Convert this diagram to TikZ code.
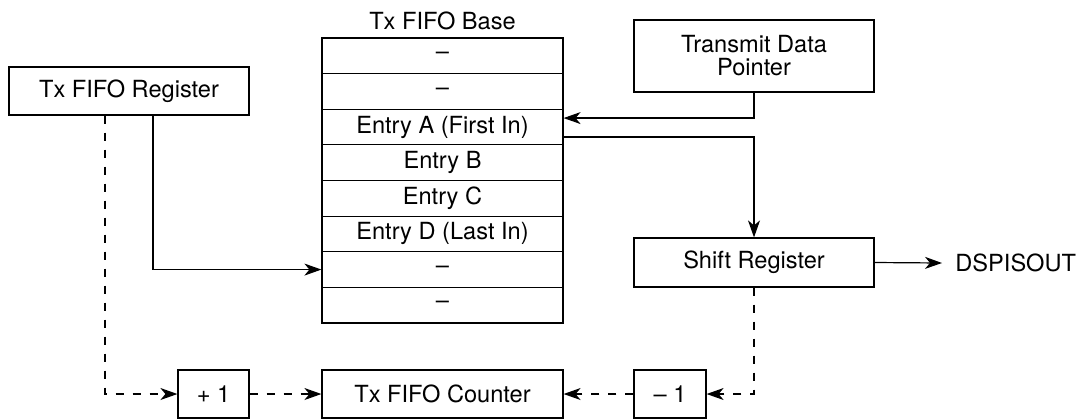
\documentclass[tikz,border=0pt]{standalone}
\usepackage{fontspec}
\setmainfont{TeX Gyre Heros}
\usetikzlibrary{arrows.meta}
\begin{document}
\begin{tikzpicture}[x=0.5pt,y=-0.5pt,
  font=\fontsize{11.8}{11.5}\selectfont,
  box/.style={draw,line width=0.6pt,rectangle,inner sep=0pt,align=center},
  row/.style={box,minimum width=120.5pt,minimum height=17.8125pt},
  arr/.style={line width=0.6pt,-{Stealth[length=8.5pt,width=6pt,inset=2.5pt]}},
  dsh/.style={arr,dash pattern=on 4pt off 4.5pt}]
\useasboundingbox (0,0) rectangle (1079,419);
% FIFO Register
\node[box,minimum width=120pt,minimum height=24pt] (reg) at (129,91) {Tx FIFO Register};
% FIFO stack
\node (base) at (442.5,21) {Tx FIFO Base};
\node[row] (r1) at (442.5,55.81) {--};
\node[row] (r2) at (442.5,91.44) {--};
\node[row] (r3) at (442.5,127.06) {Entry A (First In)};
\node[row] (r4) at (442.5,162.69) {Entry B};
\node[row] (r5) at (442.5,198.31) {Entry C};
\node[row] (r6) at (442.5,233.94) {Entry D (Last In)};
\node[row] (r7) at (442.5,269.56) {--};
\node[row] (r8) at (442.5,305.19) {--};
% Right side
\node[box,minimum width=120pt,minimum height=36pt] (tdp) at (754,56) {Transmit Data\\Pointer};
\node[box,minimum width=120pt,minimum height=24.5pt] (shift) at (754,262.5) {Shift Register};
\node[anchor=west,inner xsep=6.5pt,inner ysep=0pt] (out) at (942,263) {DSPISOUT};
% Bottom
\node[box,minimum width=35.5pt,minimum height=24pt] (plus) at (213.5,394) {+ 1};
\node[box,minimum width=120.5pt,minimum height=24pt] (counter) at (442.5,394) {Tx FIFO Counter};
\node[box,minimum width=36pt,minimum height=24pt] (minus) at (670,394) {-- 1};
% Connectors
\draw[arr] (tdp.south) |- ([yshift=4.5pt]r3.east);
\draw[arr] ([yshift=-5pt]r3.east) -| (shift.north);
\draw[arr] (shift.east) -- (out.west);
\draw[arr] ([xshift=12pt]reg.south) |- (r7.west);
\draw[dsh] ([xshift=-12pt]reg.south) |- (plus.west);
\draw[dsh] (plus.east) -- (counter.west);
\draw[dsh] (shift.south) |- (minus.east);
\draw[dsh] (minus.west) -- (counter.east);
\end{tikzpicture}
\end{document}
